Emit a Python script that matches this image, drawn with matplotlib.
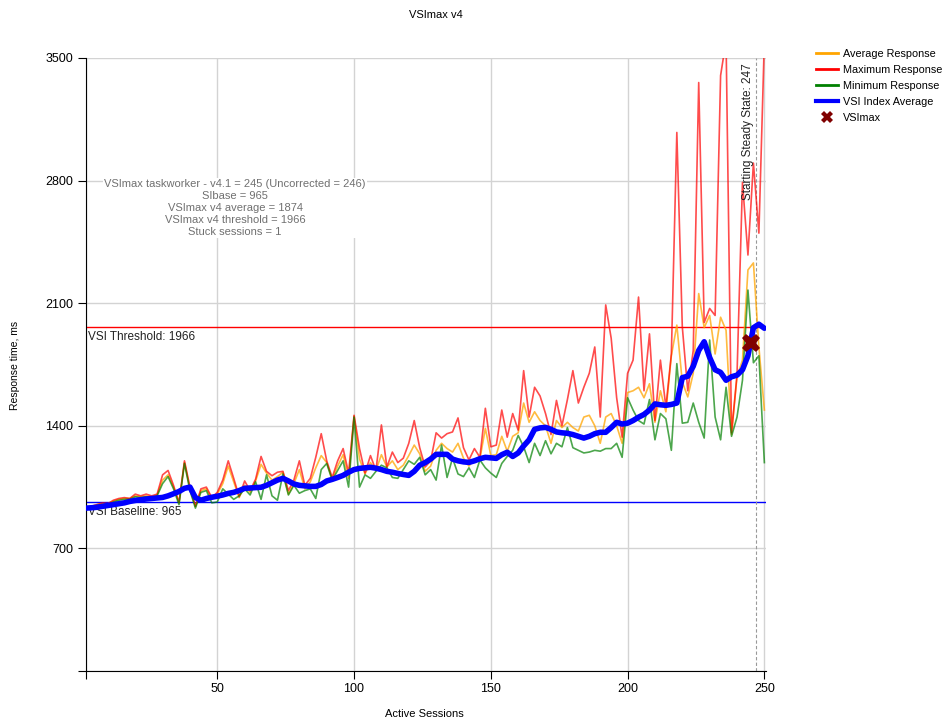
import numpy as np
import matplotlib
matplotlib.use('Agg')
import matplotlib.pyplot as plt
from matplotlib.lines import Line2D

plt.rcParams['font.family'] = ['Liberation Sans', 'DejaVu Sans']

# Active sessions (every second session)
sessions = np.arange(2, 251, 2)

# Response times, ms
max_response = [
    935, 940, 950, 960, 955, 975, 985, 990, 985, 1010,
    1000, 1010, 1000, 1010, 1120, 1145, 1060, 960, 1200, 1050,
    940, 1040, 1050, 990, 1020, 1090, 1200, 1100, 995, 1085,
    1030, 1095, 1225, 1140, 1115, 1135, 1140, 1030, 1090, 1200,
    1060, 1100, 1220, 1355, 1200, 1105, 1200, 1270, 1130, 1460,
    1270, 1130, 1230, 1145, 1405, 1165, 1250, 1190, 1215, 1300,
    1430, 1275, 1165, 1200, 1360, 1330, 1355, 1365, 1445, 1275,
    1205, 1270, 1220, 1500, 1280, 1290, 1490, 1335, 1470, 1375,
    1715, 1450, 1620, 1570, 1470, 1350, 1545, 1400, 1550, 1715,
    1530, 1620, 1700, 1850, 1450, 2090, 1900, 1560, 1335, 1700,
    1775, 2135, 1600, 1925, 1430, 1775, 1505, 1810, 3075, 1965,
    1600, 1830, 3360, 1990, 2070, 2030, 3400, 3600, 1360, 1690,
    2790, 2375, 2900, 2500, 3600,
]
avg_response = [
    935, 940, 950, 955, 955, 970, 980, 985, 985, 1000,
    995, 1000, 995, 1005, 1090, 1120, 1050, 965, 1190, 1040,
    940, 1030, 1040, 985, 1010, 1070, 1170, 1080, 990, 1060,
    1020, 1085, 1180, 1130, 1090, 1110, 1135, 1010, 1070, 1150,
    1040, 1080, 1160, 1230, 1190, 1095, 1170, 1235, 1100, 1455,
    1210, 1125, 1190, 1145, 1235, 1165, 1200, 1150, 1175, 1230,
    1290, 1240, 1140, 1170, 1260, 1300, 1270, 1250, 1300, 1215,
    1170, 1210, 1210, 1385, 1230, 1235, 1340, 1255, 1340, 1360,
    1530, 1420, 1480, 1430, 1400, 1300, 1430, 1390, 1420, 1390,
    1370, 1450, 1460, 1400, 1300, 1450, 1470, 1400, 1300, 1590,
    1600, 1620, 1560, 1640, 1420, 1600, 1480, 1800, 1975, 1650,
    1565, 1700, 2155, 1960, 2030, 1810, 2020, 1945, 1350, 1680,
    1775, 2290, 2330, 1850, 1490,
]
min_response = [
    930, 935, 945, 950, 950, 965, 975, 980, 980, 995,
    990, 995, 990, 1000, 1070, 1110, 1040, 950, 1185, 1030,
    930, 1020, 1030, 960, 965, 1040, 1010, 980, 1000, 1040,
    1005, 1080, 980, 1120, 1000, 975, 1125, 1005, 1060, 1015,
    1030, 1040, 985, 1150, 1185, 1090, 1145, 1200, 1050, 1450,
    1050, 1120, 1100, 1140, 1175, 1160, 1105, 1100, 1150, 1200,
    1180, 1220, 1120, 1150, 1090, 1290, 1105, 1215, 1125, 1110,
    1160, 1105, 1205, 1160, 1130, 1105, 1185, 1225, 1260, 1345,
    1280, 1190, 1300, 1230, 1315, 1240, 1300, 1280, 1390, 1275,
    1260, 1245, 1250, 1260, 1255, 1270, 1270, 1300, 1220, 1560,
    1490, 1430, 1410, 1550, 1320, 1470, 1440, 1260, 1755, 1415,
    1420, 1530, 1420, 1330, 1890, 1450, 1320, 1620, 1340, 1450,
    1660, 2175, 1760, 1800, 1190,
]
vsi_index_avg = [
    930, 932, 935, 940, 945, 950, 955, 960, 968, 974,
    978, 982, 985, 988, 991, 1000, 1012, 1025, 1043, 1050,
    990, 975, 985, 992, 998, 1005, 1014, 1020, 1030, 1043,
    1045, 1047, 1049, 1060, 1075, 1090, 1100, 1085, 1068, 1060,
    1057, 1054, 1054, 1065, 1085, 1094, 1105, 1117, 1135, 1150,
    1157, 1160, 1163, 1158, 1150, 1140, 1135, 1128, 1122, 1117,
    1140, 1175, 1190, 1210, 1237, 1237, 1237, 1210, 1200, 1194,
    1191, 1200, 1212, 1220, 1217, 1214, 1235, 1249, 1225, 1245,
    1285, 1320, 1380, 1388, 1391, 1380, 1365, 1360, 1357, 1350,
    1340, 1330, 1340, 1355, 1363, 1363, 1390, 1420, 1410, 1415,
    1430, 1449, 1465, 1490, 1525, 1520, 1517, 1522, 1530, 1675,
    1683, 1740, 1830, 1880, 1790, 1720, 1705, 1660, 1680, 1689,
    1720, 1800, 1960, 1980, 1957,
]

vsi_baseline = 965
vsi_threshold = 1966
vsimax_session = 245
vsimax_avg = 1874
steady_state = 247

summary_lines = [
    'VSImax taskworker - v4.1 = 245 (Uncorrected = 246)',
    'SIbase = 965',
    'VSImax v4 average = 1874',
    'VSImax v4 threshold = 1966',
    'Stuck sessions = 1',
]

fig = plt.figure(figsize=(9.46, 7.23), dpi=100)
ax = fig.add_axes([86 / 946, 52 / 723, 680 / 946, 613 / 723])

ax.plot(sessions, avg_response, color='#FFA500', lw=1.2, alpha=0.75, zorder=3)
ax.plot(sessions, max_response, color='#FF0000', lw=1.2, alpha=0.7, zorder=3)
ax.plot(sessions, min_response, color='#008000', lw=1.2, alpha=0.7, zorder=3)
ax.plot(sessions, vsi_index_avg, color='#0000FF', lw=4, zorder=5,
        solid_capstyle='round', solid_joinstyle='round')

ax.axhline(vsi_threshold, color='#FF0000', lw=1, zorder=2)
ax.axhline(vsi_baseline, color='#0000FF', lw=1, zorder=2)
ax.axvline(steady_state, color='#999999', lw=0.8, ls=(0, (3, 2)), zorder=2)

ax.plot([vsimax_session], [vsimax_avg], marker='X', color='#800000',
        markersize=13, markeredgewidth=0, zorder=6)

ax.text(2.8, vsi_threshold - 25, 'VSI Threshold: 1966', fontsize=8.5,
        color='#222222', va='top', ha='left')
ax.text(2.8, vsi_baseline - 25, 'VSI Baseline: 965', fontsize=8.5,
        color='#222222', va='top', ha='left')
ax.text(steady_state - 0.8, 3470, 'Starting Steady State: 247', rotation=90,
        fontsize=8.5, color='#222222', va='top', ha='right')
ax.text(56.5, 2810, '\n'.join(summary_lines), fontsize=8, color='#707070',
        ha='center', va='top', linespacing=1.25,
        bbox=dict(facecolor='white', edgecolor='none', pad=1))

ax.set_xlim(2, 250.6)
ax.set_ylim(0, 3500)
ax.set_xticks([2, 50, 100, 150, 200, 250])
ax.set_xticklabels(['', '50', '100', '150', '200', '250'])
ax.set_yticks([0, 700, 1400, 2100, 2800, 3500])
ax.set_yticklabels(['', '700', '1400', '2100', '2800', '3500'])
ax.tick_params(axis='both', direction='out', length=6, labelsize=9, pad=3)
ax.grid(True, color='#d3d3d3', lw=1, zorder=0)
ax.set_axisbelow(True)
for side in ['top', 'right']:
    ax.spines[side].set_visible(False)

fig.text(424 / 946, 1 - 714 / 723, 'Active Sessions', fontsize=8,
         ha='center', va='center')
fig.text(15 / 946, 1 - 365 / 723, 'Response time, ms', fontsize=7.5,
         ha='center', va='center', rotation=90)
fig.text(436 / 946, 1 - 15 / 723, 'VSImax v4', fontsize=8, ha='center',
         va='center')

handles = [
    Line2D([], [], color='#FFA500', lw=2),
    Line2D([], [], color='#FF0000', lw=2),
    Line2D([], [], color='#008000', lw=2),
    Line2D([], [], color='#0000FF', lw=3),
    Line2D([], [], color='#800000', marker='X', ls='none', markersize=8,
           markeredgewidth=0),
]
labels = ['Average Response', 'Maximum Response', 'Minimum Response',
          'VSI Index Average', 'VSImax']
fig.legend(handles, labels, loc='upper left', bbox_to_anchor=(816 / 946, 1 - 49 / 723),
           frameon=False, fontsize=7.8, handlelength=2.0, handletextpad=0.5,
           labelspacing=0.55, borderpad=0, borderaxespad=0)

fig.savefig('out.png', dpi=100)
